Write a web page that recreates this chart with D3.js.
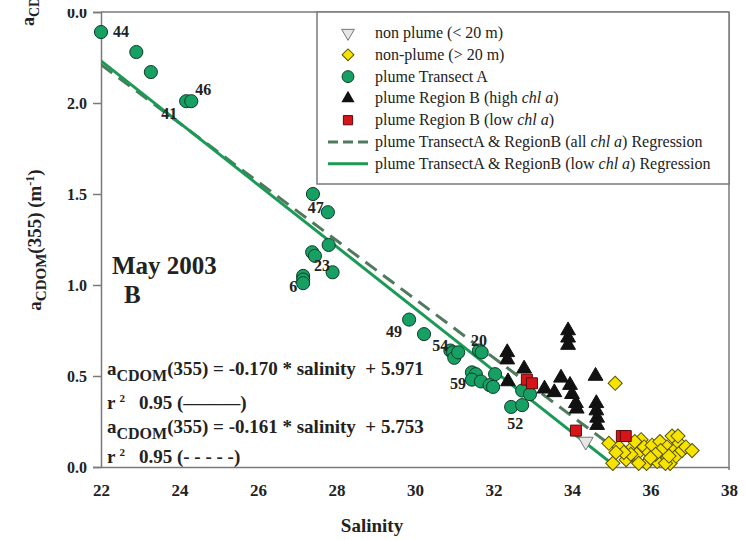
<!DOCTYPE html>
<html>
<head>
<meta charset="utf-8">
<script src="https://cdn.jsdelivr.net/npm/d3@7"></script>
<style>
  body { margin: 0; background: #fff; }
  svg { display: block; }
  svg text { font-family: "Liberation Serif", Tinos, "Times New Roman", Times, "DejaVu Serif", serif !important; fill: #222; }
</style>
</head>
<body>
<svg id="chart" width="745" height="540" font-family="Liberation Serif, serif"></svg>
<script>
// ---- data: salinity vs a_CDOM(355), May 2003 ----
const transectASalinity = [22.0, 22.9, 23.27, 24.17, 24.3, 27.4, 27.78, 27.8, 27.38, 27.45, 27.9, 27.15, 27.15, 27.15,
  29.85, 30.23, 30.9, 30.97, 31.0, 31.1, 31.63, 31.7, 31.45, 31.55, 31.45, 31.68, 32.04, 31.9, 31.99, 32.73, 32.93, 32.45, 32.73];
const transectAAcdom = [2.39, 2.28, 2.17, 2.01, 2.01, 1.50, 1.40, 1.22, 1.18, 1.16, 1.07, 1.05, 1.03, 1.01,
  0.81, 0.73, 0.64, 0.63, 0.60, 0.63, 0.64, 0.63, 0.52, 0.51, 0.48, 0.47, 0.51, 0.45, 0.44, 0.42, 0.40, 0.33, 0.34];

const regionBHighSalinity = [32.35, 32.35, 32.78, 32.37, 33.3, 33.55, 33.72, 33.95, 34.0, 34.1, 34.12, 33.9, 33.9, 33.9,
  34.6, 34.62, 34.62, 34.64, 34.64];
const regionBHighAcdom = [0.63, 0.59, 0.54, 0.47, 0.43, 0.41, 0.49, 0.45, 0.40, 0.35, 0.32, 0.75, 0.71, 0.67,
  0.50, 0.35, 0.31, 0.27, 0.23];

const regionBLowSalinity = [32.85, 32.98, 34.1, 35.27, 35.37];
const regionBLowAcdom = [0.48, 0.46, 0.20, 0.17, 0.17];

const nonPlumeShallowSalinity = [34.35];
const nonPlumeShallowAcdom = [0.14];

const nonPlumeDeepSalinity = [35.1, 34.94, 35.04, 35.2, 35.38, 35.55, 35.65, 35.76, 35.84, 35.9, 35.96, 36.04, 36.09, 36.17,
  36.24, 36.34, 36.42, 36.5, 36.55, 36.6, 36.65, 36.73, 36.8, 36.9, 37.06, 36.38, 35.7, 35.5, 35.32, 36.26, 36.13, 36.47,
  36.7, 35.6, 36.0, 35.12];
const nonPlumeDeepAcdom = [0.46, 0.13, 0.02, 0.11, 0.04, 0.11, 0.07, 0.15, 0.11, 0.02, 0.08, 0.12, 0.05, 0.03,
  0.14, 0.07, 0.11, 0.02, 0.17, 0.09, 0.06, 0.13, 0.09, 0.11, 0.09, 0.02, 0.02, 0.07, 0.08, 0.09, 0.07, 0.06,
  0.17, 0.14, 0.05, 0.08];

// station numbers, keyed by the index of the Transect A point they annotate
const stationLabels = ["44", "46", "41", "47", "23", "6", "49", "54", "20", "59", "52"];
const stationPoint = [0, 4, 3, 6, 9, 13, 14, 16, 20, 24, 31];

// linear fits: a_CDOM(355) = slope * salinity + intercept
const fitLowChl = { slope: -0.170, intercept: 5.971, r2: 0.95 };
const fitAllChl = { slope: -0.161, intercept: 5.753, r2: 0.95 };

const xTicks = [22, 24, 26, 28, 30, 32, 34, 36, 38];
const yTicks = [0, 0.5, 1.0, 1.5, 2.0, 2.5];

const legendLabels = [
  ["non plume (< 20 m)"],
  ["non-plume (> 20 m)"],
  ["plume Transect A"],
  ["plume Region B (high ", "chl a", ")"],
  ["plume Region B (low ", "chl a", ")"],
  ["plume TransectA & RegionB (all ", "chl a", ") Regression"],
  ["plume TransectA & RegionB (low ", "chl a", ") Regression"]
];

// ---- layout ----
const svg = d3.select("#chart");
const x = d3.scaleLinear().domain([22, 38]).range([101, 729]);
const y = d3.scaleLinear().domain([0, 2.5]).range([467, 12]);

const COL = {
  frame: "#7a7a7a",
  green: "#17a063",
  greenEdge: "#0d3b27",
  solid: "#1a9a55",
  dashed: "#4f7a5e",
  red: "#d8141b",
  yellow: "#f6e400",
  grayTri: "#e6e6e6"
};

// edge of the panel above: its bottom tick label and y-title, cut off by the frame
svg.append("defs").append("clipPath").attr("id", "topclip")
  .append("rect").attr("x", 0).attr("y", 9).attr("width", 100).attr("height", 30);
svg.append("text")
  .attr("x", 87).attr("y", 18)
  .attr("text-anchor", "end")
  .attr("clip-path", "url(#topclip)")
  .style("font-size", "16px").style("font-weight", "bold")
  .text("0.0");
const upperTitle = svg.append("text")
  .attr("transform", "translate(34,26) rotate(-90)")
  .style("font-size", "18px").style("font-weight", "bold");
upperTitle.append("tspan").text("a");
upperTitle.append("tspan").attr("dy", 5).style("font-size", "14px").text("CDOM");

// ---- axes ----
const yAxis = d3.axisLeft(y).tickValues(yTicks)
  .tickFormat(d => d === 2.5 ? "" : d3.format(".1f")(d))
  .tickSize(8).tickPadding(6);
const gy = svg.append("g").attr("transform", `translate(${x(22)},0)`).call(yAxis);
gy.attr("font-family", null);
gy.select(".domain").attr("stroke", COL.frame).attr("stroke-width", 1.5);
gy.selectAll(".tick line").attr("stroke", COL.frame).attr("stroke-width", 1.5);
gy.selectAll(".tick text")
  .style("font-size", "16px").style("font-weight", "bold").attr("fill", "#222");

const xAxis = d3.axisBottom(x).tickValues(xTicks).tickFormat(d3.format("d"))
  .tickSize(0).tickPadding(17);
const gx = svg.append("g").attr("transform", `translate(0,${y(0)})`).call(xAxis);
gx.attr("font-family", null);
gx.select(".domain").attr("stroke", COL.frame).attr("stroke-width", 1.5);
gx.selectAll(".tick text")
  .style("font-size", "17px").style("font-weight", "bold").attr("fill", "#222");

// top and right frame
svg.append("line").attr("x1", x(22)).attr("x2", x(38)).attr("y1", y(2.5)).attr("y2", y(2.5))
  .attr("stroke", COL.frame).attr("stroke-width", 1.5);
svg.append("line").attr("x1", x(38)).attr("x2", x(38)).attr("y1", y(2.5)).attr("y2", y(0) + 3)
  .attr("stroke", COL.frame).attr("stroke-width", 1.5);

// axis titles
svg.append("text")
  .attr("x", 372).attr("y", 532)
  .attr("text-anchor", "middle")
  .style("font-size", "19px").style("font-weight", "bold")
  .text("Salinity");

const yTitle = svg.append("text")
  .attr("transform", "translate(41,240) rotate(-90)")
  .attr("text-anchor", "middle")
  .style("font-size", "19px").style("font-weight", "bold");
yTitle.append("tspan").text("a");
yTitle.append("tspan").attr("dy", 5).style("font-size", "15px").text("CDOM");
yTitle.append("tspan").attr("dy", -5).text("(355) (m");
yTitle.append("tspan").attr("dy", -7).style("font-size", "12px").text("-1");
yTitle.append("tspan").attr("dy", 7).text(")");

// ---- regression lines, clipped to the plotting area ----
svg.select("defs").append("clipPath").attr("id", "plotclip")
  .append("rect").attr("x", x(22)).attr("y", y(2.5)).attr("width", x(38) - x(22)).attr("height", y(0) - y(2.5));

function fitEnds(f) {
  const sEnd = -f.intercept / f.slope;
  return [[22, f.slope * 22 + f.intercept], [sEnd, 0]];
}
const line = d3.line().x(d => x(d[0])).y(d => y(d[1]));
const lines = svg.append("g").attr("clip-path", "url(#plotclip)");
lines.append("path").attr("d", line(fitEnds(fitAllChl)))
  .attr("fill", "none").attr("stroke", COL.dashed).attr("stroke-width", 3)
  .attr("stroke-dasharray", "14,8");
lines.append("path").attr("d", line(fitEnds(fitLowChl)))
  .attr("fill", "none").attr("stroke", COL.solid).attr("stroke-width", 3);

// ---- markers ----
const sym = (type, size) => d3.symbol().type(type).size(size)();
const marks = svg.append("g");

function drawSeries(sal, acd, path, fill, stroke, rot) {
  marks.append("g").selectAll("path")
    .data(sal.map((s, i) => [s, acd[i]]))
    .join("path")
    .attr("d", path)
    .attr("transform", d => `translate(${x(d[0])},${y(d[1])})${rot ? ` rotate(${rot})` : ""}`)
    .attr("fill", fill).attr("stroke", stroke).attr("stroke-width", 1);
}

drawSeries(nonPlumeDeepSalinity, nonPlumeDeepAcdom, sym(d3.symbolSquare, 100), COL.yellow, "#5a5200", 45);
drawSeries(nonPlumeShallowSalinity, nonPlumeShallowAcdom, sym(d3.symbolTriangle, 95), COL.grayTri, "#777", 180);
drawSeries(transectASalinity, transectAAcdom, sym(d3.symbolCircle, 135), COL.green, COL.greenEdge, 0);
drawSeries(regionBHighSalinity, regionBHighAcdom, sym(d3.symbolTriangle, 95), "#111", "#111", 0);
drawSeries(regionBLowSalinity, regionBLowAcdom, sym(d3.symbolSquare, 120), COL.red, "#5a0a0a", 0);

// station numbers
const labelOffset = {
  "44": [20, 5], "46": [12, -6], "41": [-17, 18], "47": [-12, 1], "23": [7, 15], "6": [-10, 9],
  "49": [-15, 17], "54": [-10, 0], "20": [0, -5], "59": [-14, 9], "52": [4, 22]
};
svg.append("g").selectAll("text")
  .data(stationLabels.map((t, i) => ({ t, i: stationPoint[i] })))
  .join("text")
  .attr("x", d => x(transectASalinity[d.i]) + labelOffset[d.t][0])
  .attr("y", d => y(transectAAcdom[d.i]) + labelOffset[d.t][1])
  .attr("text-anchor", "middle")
  .style("font-size", "16px").style("font-weight", "bold")
  .text(d => d.t);

// ---- panel annotations ----
svg.append("text").attr("x", 112).attr("y", 274)
  .style("font-size", "25px").style("font-weight", "bold").text("May 2003");
svg.append("text").attr("x", 124).attr("y", 303)
  .style("font-size", "25px").style("font-weight", "bold").text("B");

function equation(yPos, f) {
  const t = svg.append("text").attr("x", 107).attr("y", yPos)
    .style("font-size", "19px").style("font-weight", "bold");
  t.append("tspan").text("a");
  t.append("tspan").attr("dy", 6).style("font-size", "16px").text("CDOM");
  t.append("tspan").attr("dy", -6)
    .text(`(355) = ${f.slope.toFixed(3)} * salinity \u00a0+ ${f.intercept.toFixed(3)}`);
}
function r2line(yPos, f, sample) {
  const t = svg.append("text").attr("x", 107).attr("y", yPos)
    .style("font-size", "19px").style("font-weight", "bold");
  t.append("tspan").text("r");
  t.append("tspan").attr("dx", 4).attr("dy", -7).style("font-size", "11px").text("2");
  t.append("tspan").attr("dx", 14).attr("dy", 7).text(`${f.r2.toFixed(2)} (${sample})`);
}
equation(375, fitLowChl);
r2line(409, fitLowChl, "\u2014\u2014\u2014");
equation(433, fitAllChl);
r2line(463, fitAllChl, "- - - - -");

// ---- legend ----
const legend = svg.append("g");
legend.append("rect").attr("x", 317).attr("y", 12).attr("width", 412).attr("height", 172)
  .attr("fill", "#fff").attr("stroke", COL.frame).attr("stroke-width", 1.5);

const rowY = i => 33 + i * 21.8;
const symX = 348;
legend.append("path").attr("d", sym(d3.symbolTriangle, 70))
  .attr("transform", `translate(${symX},${rowY(0)}) rotate(180)`)
  .attr("fill", COL.grayTri).attr("stroke", "#777");
legend.append("path").attr("d", sym(d3.symbolSquare, 70))
  .attr("transform", `translate(${symX},${rowY(1)}) rotate(45)`)
  .attr("fill", COL.yellow).attr("stroke", "#5a5200");
legend.append("path").attr("d", sym(d3.symbolCircle, 110))
  .attr("transform", `translate(${symX},${rowY(2)})`)
  .attr("fill", COL.green).attr("stroke", COL.greenEdge);
legend.append("path").attr("d", sym(d3.symbolTriangle, 75))
  .attr("transform", `translate(${symX},${rowY(3)})`)
  .attr("fill", "#111");
legend.append("path").attr("d", sym(d3.symbolSquare, 85))
  .attr("transform", `translate(${symX},${rowY(4)})`)
  .attr("fill", COL.red).attr("stroke", "#5a0a0a");
legend.append("line").attr("x1", 328).attr("x2", 368).attr("y1", rowY(5)).attr("y2", rowY(5))
  .attr("stroke", COL.dashed).attr("stroke-width", 3).attr("stroke-dasharray", "10,5");
legend.append("line").attr("x1", 328).attr("x2", 368).attr("y1", rowY(6)).attr("y2", rowY(6))
  .attr("stroke", COL.solid).attr("stroke-width", 3);

legendLabels.forEach((parts, i) => {
  const t = legend.append("text").attr("x", 375).attr("y", rowY(i) + 5)
    .style("font-size", "16px");
  parts.forEach((p, j) => {
    t.append("tspan").style("font-style", j === 1 ? "italic" : "normal").text(p);
  });
});
</script>
</body>
</html>
